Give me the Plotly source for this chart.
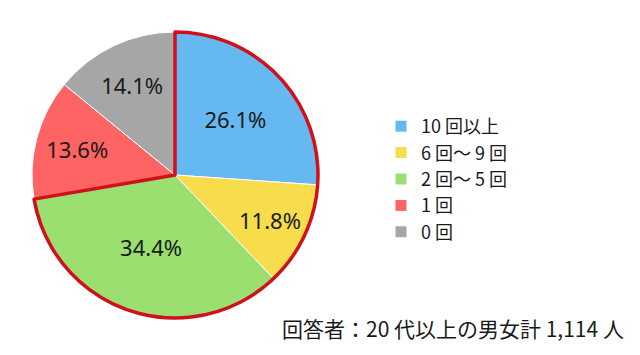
import plotly.graph_objects as go

labels = ["10 回以上", "6 回～ 9 回", "2 回～ 5 回", "1 回", "0 回"]
values = [26.1, 11.8, 34.4, 13.6, 14.1]
colors = ["#66b8f0", "#f7dd4b", "#9adf70", "#ff6464", "#a6a6a6"]
highlight_count = 3  # first three slices outlined in red
note = "回答者：20 代以上の男女計 1,114 人"

FONT = "Noto Sans CJK JP, Noto Sans, sans-serif"
NUMFONT = "Noto Sans, Noto Sans CJK JP, sans-serif"
W, H = 640, 355
dom_x = [32 / W, 318 / W]
dom_y = [(H - 318) / H, (H - 32) / H]

hi_sum = round(sum(values[:highlight_count]), 1)
rest_sum = round(sum(values[highlight_count:]), 1)

fig = go.Figure()
fig.add_trace(go.Pie(
    labels=labels,
    values=values,
    text=[f"{v:.1f}%" for v in values],
    textinfo="text",
    textposition="inside",
    insidetextorientation="horizontal",
    textfont=dict(family=NUMFONT, size=22, color="#1a1a1a"),
    marker=dict(colors=colors, line=dict(color="white", width=1)),
    sort=False,
    direction="clockwise",
    rotation=0,
    domain=dict(x=dom_x, y=dom_y),
    hoverinfo="label+percent",
))
fig.add_trace(go.Pie(
    labels=["highlight", "rest"],
    values=[hi_sum, rest_sum],
    textinfo="none",
    marker=dict(colors=["rgba(0,0,0,0)", "rgba(0,0,0,0)"],
                line=dict(color=["#d0111b", "rgba(0,0,0,0)"], width=[3.5, 0])),
    sort=False,
    direction="clockwise",
    rotation=0,
    domain=dict(x=dom_x, y=dom_y),
    showlegend=False,
    hoverinfo="skip",
))

fig.add_annotation(
    text=note, x=626 / W, y=(H - 328) / H, xref="paper", yref="paper",
    xanchor="right", yanchor="middle", showarrow=False,
    font=dict(family=FONT, size=21, color="#1a1a1a"),
)

fig.update_layout(
    width=W, height=H,
    margin=dict(l=0, r=0, t=0, b=0),
    paper_bgcolor="white", plot_bgcolor="white",
    uniformtext=dict(minsize=22, mode="show"),
    legend=dict(
        x=381 / W, y=(H - 179) / H, xanchor="left", yanchor="middle",
        font=dict(family=FONT, size=18, color="#1a1a1a"),
        bgcolor="rgba(0,0,0,0)",
    ),
)

fig.write_html("out.html")
